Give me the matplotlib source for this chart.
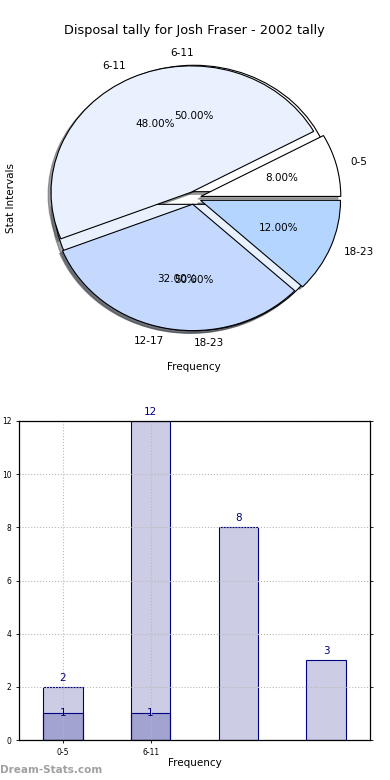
import matplotlib
matplotlib.use("Agg")
import matplotlib.pyplot as plt

plt.rcParams['font.family'] = ['DejaVu Sans']

title = "Disposal tally for Josh Fraser - 2002 tally"
pie_labels = ["0-5", "6-11", "12-17", "18-23"]
pie_values = [2, 12, 8, 3]
pie2_labels = ["6-11", "18-23"]
pie2_values = [1, 1]
pie_colors = ["#ffffff", "#e9f1ff", "#c5d9ff", "#b4d5ff"]

bar_x = [0, 1, 2, 3]
bar_values = [2, 12, 8, 3]
bar2_x = [0, 1]
bar2_values = [1, 1]
tick_labels = ["0-5", "6-11"]
yticks = [0, 2, 4, 6, 8, 10, 12]

fig = plt.figure(figsize=(3.9, 7.8), dpi=100)

# ---- Pie ----
ax1 = fig.add_axes([19/390, 1 - 356/780, 350/390, 316/780])
wp = dict(edgecolor='black', linewidth=0.8)
tp = dict(fontsize=7.5)
sh = dict(ox=-0.015, oy=-0.015)
ax1.pie(pie2_values, labels=pie2_labels, colors=pie_colors[:2],
        explode=[0.05, 0.05], autopct='%.2f%%', shadow=sh,
        wedgeprops=wp, textprops=tp, labeldistance=1.1, pctdistance=0.6)
ax1.pie(pie_values, labels=pie_labels, colors=pie_colors,
        explode=[0.05] * 4, autopct='%.2f%%', shadow=sh,
        wedgeprops=wp, textprops=tp, labeldistance=1.1, pctdistance=0.6)
ax1.set_aspect('auto')
ax1.set_xlim(-1.25, 1.25)
ax1.set_ylim(-1.25, 1.25)
ax1.set_title(title, fontsize=9.3, pad=4)
ax1.set_xlabel("Frequency", fontsize=7.5)
ax1.set_ylabel("Stat Intervals", fontsize=7.5, labelpad=2)
ax1.xaxis.set_label_coords(0.5, -0.02)

# ---- Bars ----
ax2 = fig.add_axes([19/390, 1 - 740/780, 351/390, 319/780])
fc = (0, 0, 0.5, 0.2)
ax2.bar(bar_x, bar_values, width=0.45, color=fc, edgecolor='navy', linewidth=0.8)
ax2.bar(bar2_x, bar2_values, width=0.45, color=fc, edgecolor='navy', linewidth=0.8)
for xv, v in zip(bar_x, bar_values):
    ax2.text(xv, v + 0.15, str(v), ha='center', va='bottom', color='navy', fontsize=7.5)
for xv, v in zip(bar2_x, bar2_values):
    ax2.text(xv, v, str(v), ha='center', va='center', color='navy', fontsize=7.5)
ax2.set_xlim(-0.5, 3.5)
ax2.set_ylim(0, 12)
ax2.set_yticks(yticks)
ax2.set_xticks(bar2_x)
ax2.set_xticklabels(tick_labels)
ax2.tick_params(labelsize=5.5, length=2, width=0.6, right=True)
ax2.grid(True, linestyle=':', color='#b8b8b8', linewidth=0.8)
for s in ax2.spines.values():
    s.set_linewidth(0.9)
ax2.set_xlabel("Frequency", fontsize=7.5, labelpad=1)
ax2.set_ylabel("Stat Intervals", fontsize=7.5, labelpad=3)

fig.text(0.0, 10/780, "Dream-Stats.com", fontsize=7.5, fontweight='bold',
         color='#a0a0a0', ha='left', va='center')

fig.savefig("out.png", dpi=100)
